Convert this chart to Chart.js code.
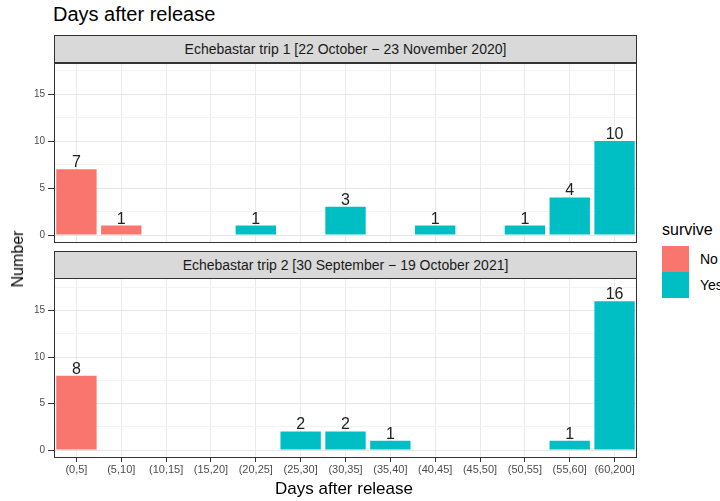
<!DOCTYPE html>
<html>
<head>
<meta charset="utf-8">
<script src="https://cdn.jsdelivr.net/npm/chart.js@4.4.0/dist/chart.umd.min.js"></script>
<style>
  html, body { margin: 0; padding: 0; background: #fff; }
  #wrap { position: relative; width: 720px; height: 501px; overflow: hidden; font-family: "Liberation Sans", Arial, sans-serif; }
  .abs { position: absolute; }
  .strip { position: absolute; left: 54px; width: 583px; height: 28px; background: #D9D9D9; border: 1px solid #333;
           box-sizing: border-box; font-size: 14px; color: #1A1A1A; text-align: center; line-height: 26px; }
  #title { left: 53px; top: 3px; font-size: 20px; color: #000; }
  #ytitle { left: 18px; top: 259px; font-size: 16px; color: #000; transform: translate(-50%, -50%) rotate(-90deg); white-space: nowrap; }
  #xtitle { left: 344px; top: 489px; font-size: 17px; color: #000; transform: translate(-50%, -50%); white-space: nowrap; }
  #legTitle { left: 662px; top: 221px; font-size: 16px; color: #000; }
  .key { position: absolute; left: 662px; width: 27px; height: 26px; }
  .keyLab { position: absolute; left: 700px; font-size: 14px; color: #000; }
</style>
</head>
<body>
<div id="wrap">
  <div id="title" class="abs">Days after release</div>
  <div class="strip" style="top:35px">Echebastar trip 1 [22 October − 23 November 2020]</div>
  <div class="strip" style="top:251px">Echebastar trip 2 [30 September − 19 October 2021]</div>
  <canvas id="c1" class="abs" style="left:0;top:61px" width="640" height="184"></canvas>
  <canvas id="c2" class="abs" style="left:0;top:276px" width="640" height="207"></canvas>
  <div id="ytitle" class="abs">Number</div>
  <div id="xtitle" class="abs">Days after release</div>
  <div id="legTitle" class="abs">survive</div>
  <div class="key" style="top:246px;background:#F8766D"></div>
  <div class="key" style="top:272px;background:#00BFC4"></div>
  <div class="keyLab" style="top:251px">No</div>
  <div class="keyLab" style="top:277px">Yes</div>
</div>
<script>
// ---------- Data ----------
const categories = ['(0,5]', '(5,10]', '(10,15]', '(15,20]', '(20,25]', '(25,30]', '(30,35]',
                    '(35,40]', '(40,45]', '(45,50]', '(50,55]', '(55,60]', '(60,200]'];
const trip1No  = [7, 1, null, null, null, null, null, null, null, null, null, null, null];
const trip1Yes = [null, null, null, null, 1, null, 3, null, 1, null, 1, 4, 10];
const trip2No  = [8, null, null, null, null, null, null, null, null, null, null, null, null];
const trip2Yes = [null, null, null, null, null, 2, 2, 1, null, null, null, 1, 16];
const yTickValues = [0, 2.5, 5, 7.5, 10, 12.5, 15, 17.5];

const COL_NO = '#F8766D', COL_YES = '#00BFC4';
const isMajor = v => v % 5 === 0;

// ---------- Plugins ----------
const valueLabels = {
  id: 'valueLabels',
  afterDatasetsDraw(chart) {
    const ctx = chart.ctx;
    ctx.save();
    ctx.font = '16px "Liberation Sans", Arial, sans-serif';
    ctx.fillStyle = '#222';
    ctx.textAlign = 'center';
    ctx.textBaseline = 'alphabetic';
    chart.data.datasets.forEach((ds, i) => {
      chart.getDatasetMeta(i).data.forEach((bar, j) => {
        const v = ds.data[j];
        if (v == null) return;
        ctx.fillText(String(v), bar.x, bar.y - 2);
      });
    });
    ctx.restore();
  }
};
const panelBorder = {
  id: 'panelBorder',
  afterDraw(chart) {
    const a = chart.chartArea, ctx = chart.ctx;
    ctx.save();
    ctx.strokeStyle = '#333';
    ctx.lineWidth = 1;
    ctx.strokeRect(Math.round(a.left) + 0.5, Math.round(a.top) + 0.5,
                   Math.round(a.right - a.left) - 1, Math.round(a.bottom - a.top) - 1);
    ctx.restore();
  }
};

// ---------- Chart builder ----------
function facetChart(id, noData, yesData, showX, yMax) {
  return new Chart(document.getElementById(id), {
    type: 'bar',
    data: {
      labels: categories,
      datasets: [
        { label: 'No', data: noData, backgroundColor: COL_NO, grouped: false, categoryPercentage: 0.9, barPercentage: 1 },
        { label: 'Yes', data: yesData, backgroundColor: COL_YES, grouped: false, categoryPercentage: 0.9, barPercentage: 1 }
      ]
    },
    options: {
      responsive: false,
      animation: false,
      devicePixelRatio: 1,
      layout: { padding: { top: 2, right: 3, bottom: showX ? 0 : 2, left: 0 } },
      plugins: { legend: { display: false }, tooltip: { enabled: false } },
      scales: {
        x: {
          offset: true,
          grid: { offset: false, color: '#EBEBEB', drawTicks: showX, tickLength: 4, tickColor: '#333' },
          border: { display: false },
          ticks: {
            display: showX, autoSkip: false, maxRotation: 0, padding: 1,
            color: '#4D4D4D', font: { family: '"Liberation Sans", Arial, sans-serif', size: 11 }
          },
          afterFit: s => { s.height = showX ? 25 : 0; s.paddingLeft = 0; s.paddingRight = 0; }
        },
        y: {
          min: -0.85, max: yMax,
          afterBuildTicks: s => { s.ticks = yTickValues.map(v => ({ value: v })); },
          afterFit: s => { s.width = 54; s.paddingTop = 0; s.paddingBottom = 0; },
          grid: {
            color: c => isMajor(c.tick.value) ? '#E6E6E6' : '#F3F3F3',
            tickColor: c => isMajor(c.tick.value) ? '#333' : 'rgba(0,0,0,0)',
            tickLength: 6
          },
          border: { display: false },
          ticks: {
            padding: 3, color: '#4D4D4D',
            font: { family: '"Liberation Sans", Arial, sans-serif', size: 10 },
            callback: v => isMajor(v) ? String(v) : ''
          }
        }
      }
    },
    plugins: [valueLabels, panelBorder]
  });
}

facetChart('c1', trip1No, trip1Yes, false, 18.3);
facetChart('c2', trip2No, trip2Yes, true, 18.5);
</script>
</body>
</html>
